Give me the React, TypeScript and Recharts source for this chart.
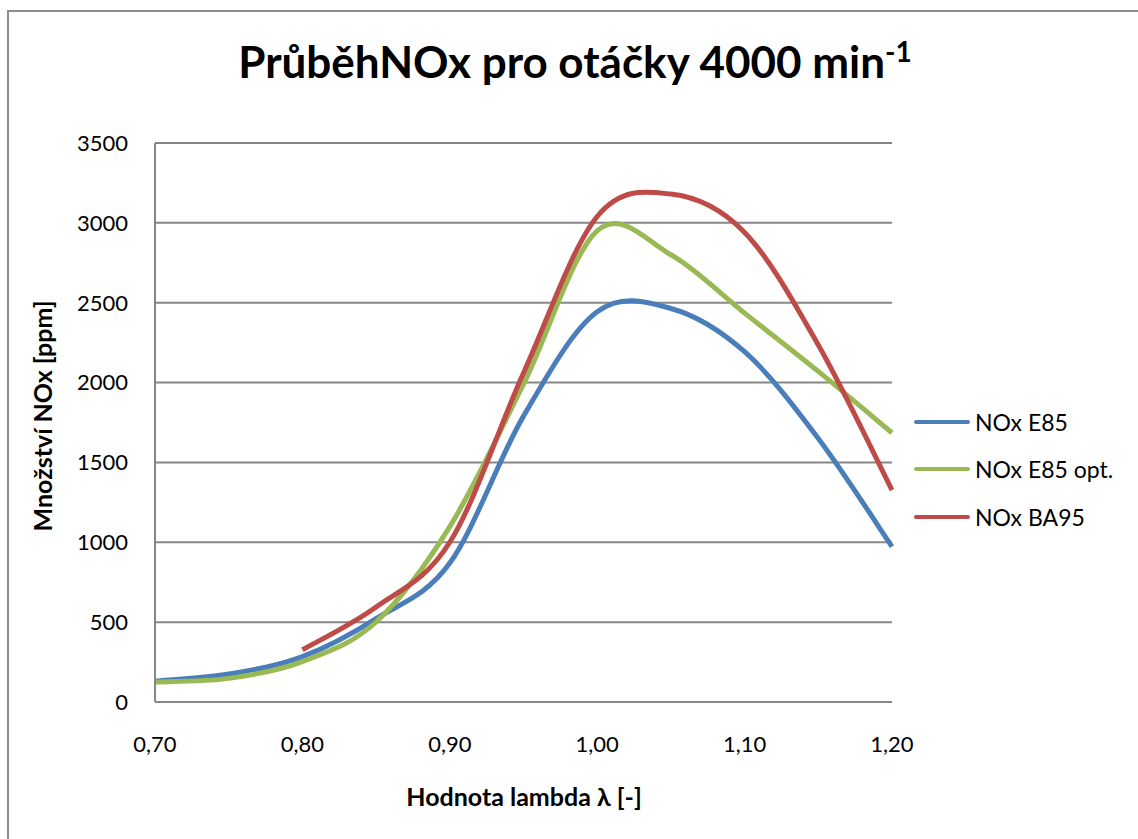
import React from 'react';
import { LineChart, Line, XAxis, YAxis, CartesianGrid, Legend } from 'recharts';

// lambda values (x) and NOx readings [ppm]
const lambda = [0.7, 0.75, 0.8, 0.85, 0.9, 0.95, 1.0, 1.05, 1.1, 1.15, 1.2];
const noxE85 = [130, 175, 284, 522, 870, 1790, 2443, 2464, 2193, 1650, 973];
const noxE85opt = [125, 148, 253, 501, 1098, 1990, 2950, 2800, 2435, 2070, 1685];
const noxBA95 = [null, null, 327, 595, 1000, 2060, 3040, 3180, 2940, 2235, 1327];

const seriesNames = ['NOx E85', 'NOx E85 opt.', 'NOx BA95'];
const xTicks = [0.7, 0.8, 0.9, 1.0, 1.1, 1.2];
const yTicks = [0, 500, 1000, 1500, 2000, 2500, 3000, 3500];

const data = lambda.map((l, i) => ({ l, e85: noxE85[i], e85opt: noxE85opt[i], ba95: noxBA95[i] }));

const FONT = 'Lato, "Open Sans", sans-serif';
const GRID = '#878787';

// Excel-like smoothed line (cardinal spline, tension 0)
const excelSmooth = (context: any) => {
    let pts: number[][] = [];
    return {
        areaStart() {},
        areaEnd() {},
        lineStart() { pts = []; },
        lineEnd() {
            if (!pts.length) return;
            context.moveTo(pts[0][0], pts[0][1]);
            for (let i = 0; i < pts.length - 1; i++) {
                const p0 = pts[Math.max(i - 1, 0)];
                const p1 = pts[i];
                const p2 = pts[i + 1];
                const p3 = pts[Math.min(i + 2, pts.length - 1)];
                context.bezierCurveTo(
                    p1[0] + (p2[0] - p0[0]) / 6, p1[1] + (p2[1] - p0[1]) / 6,
                    p2[0] - (p3[0] - p1[0]) / 6, p2[1] - (p3[1] - p1[1]) / 6,
                    p2[0], p2[1],
                );
            }
        },
        point(x: number, y: number) { pts.push([+x, +y]); },
    };
};

const LegendContent = ({ payload }: any) => {
    const items = [...(payload || [])].sort((a: any, b: any) => seriesNames.indexOf(a.value) - seriesNames.indexOf(b.value));
    return (
        <div style={{ fontFamily: FONT, fontSize: 23, color: '#000' }}>
            {items.map((p: any) => (
                <div key={p.value} style={{ display: 'flex', alignItems: 'center', height: 47.5 }}>
                    <span style={{ display: 'inline-block', width: 56, height: 4, borderRadius: 2, background: p.color, marginRight: 5 }} />
                    <span>{p.value}</span>
                </div>
            ))}
        </div>
    );
};

const App: React.FC = () => (
    <div style={{ position: 'relative', width: 1138, height: 839, overflow: 'hidden', background: '#fff' }}>
        <style>{'body{margin:0;overflow:hidden}'}</style>
        <div style={{ position: 'absolute', left: 7, top: 10, width: 1200, height: 900, border: '2px solid #8c8c8c' }} />
        <div style={{
            position: 'absolute', left: 0, width: 1150, top: 34, textAlign: 'center',
            fontFamily: FONT, fontWeight: 700, fontSize: 44, color: '#000',
        }}>
            PrůběhNOx pro otáčky 4000 min<sup style={{ fontSize: 28 }}>-1</sup>
        </div>
        <div style={{
            position: 'absolute', left: 42, top: 416, transform: 'translate(-50%, -50%) rotate(-90deg)',
            whiteSpace: 'nowrap', fontFamily: FONT, fontWeight: 700, fontSize: 25, color: '#000',
        }}>
            Množství NOx [ppm]
        </div>
        <div style={{
            position: 'absolute', left: 0, width: 1048, top: 781, textAlign: 'center',
            fontFamily: FONT, fontWeight: 700, fontSize: 25, color: '#000',
        }}>
            Hodnota lambda λ [-]
        </div>
        <div style={{ position: 'absolute', left: 0, top: 0 }}>
            <LineChart width={1138} height={839} data={data} margin={{ top: 143, right: 246, left: 75, bottom: 77 }}>
                <CartesianGrid stroke={GRID} strokeWidth={2} vertical={false} />
                <XAxis
                    dataKey="l" type="number" domain={[0.7, 1.2]} ticks={xTicks} height={60}
                    tickFormatter={(v: number) => v.toFixed(2).replace('.', ',')}
                    tick={{ fill: '#000', fontSize: 22, fontFamily: FONT }}
                    axisLine={{ stroke: GRID, strokeWidth: 2 }} tickLine={false} tickMargin={28}
                />
                <YAxis
                    type="number" domain={[0, 3500]} ticks={yTicks} width={80}
                    tick={{ fill: '#000', fontSize: 22, fontFamily: FONT }}
                    axisLine={{ stroke: GRID, strokeWidth: 2 }} tickLine={false} tickMargin={21}
                />
                <Legend
                    layout="horizontal" align="center" verticalAlign="middle"
                    wrapperStyle={{ left: 914, top: 398, width: 224 }}
                    content={<LegendContent />}
                />
                <Line type={excelSmooth as any} dataKey="e85" name="NOx E85" stroke="#4a7ebb" strokeWidth={5} dot={false} isAnimationActive={false} />
                <Line type={excelSmooth as any} dataKey="e85opt" name="NOx E85 opt." stroke="#98b954" strokeWidth={5} dot={false} isAnimationActive={false} />
                <Line type={excelSmooth as any} dataKey="ba95" name="NOx BA95" stroke="#be4b48" strokeWidth={5} dot={false} isAnimationActive={false} />
            </LineChart>
        </div>
    </div>
);

export default App;
